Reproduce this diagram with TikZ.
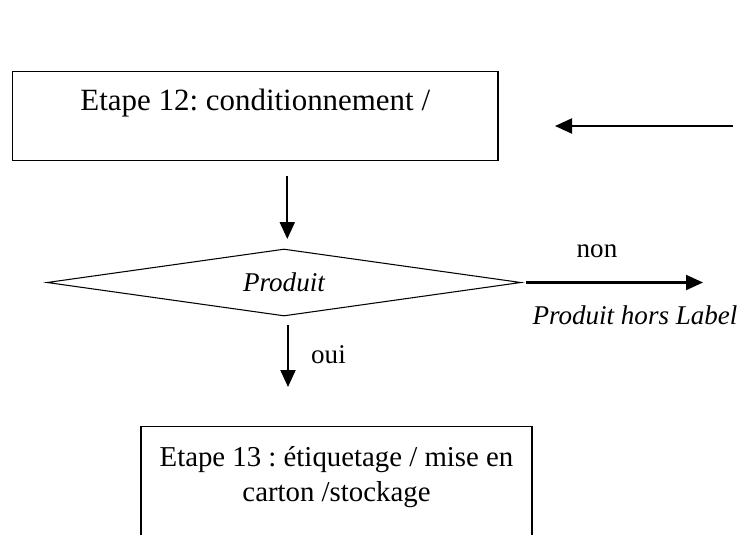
\documentclass[tikz,border=0pt]{standalone}
\usepackage{fontspec}
\setmainfont{Liberation Serif}
\usetikzlibrary{shapes.geometric, arrows.meta}
\frenchspacing

\begin{document}
\begin{tikzpicture}[font=\fontsize{17.6}{19.9}\selectfont,
  stepbox/.style={draw, line width=0.6pt, anchor=north, inner xsep=0, inner ysep=0},
  decision/.style={draw, diamond, line width=0.6pt, shape aspect=7, inner sep=0,
    minimum width=9.48cm, minimum height=1.34cm, font=\fontsize{15.4}{18}\selectfont\itshape},
  tag/.style={font=\fontsize{15.4}{18}\selectfont},
  flow/.style={-{Triangle[length=0.34cm, width=0.3cm]}, line width=1.2pt}]

\useasboundingbox (0, 0) rectangle (14.88, -10.7);
\clip (0, 0) rectangle (14.88, -10.7);

% Steps
\node[stepbox, minimum width=9.71cm, text height=0.78cm, text depth=1cm] (etape12) at (5.105, -1.42) {Etape 12: conditionnement /};
\node[stepbox, text width=7.82cm, align=flush center, text height=0.8cm, text depth=3cm,
  font=\fontsize{16.4}{19.9}\selectfont] (etape13) at (6.73, -8.52)
  {Etape 13 : étiquetage / mise en\\carton /stockage};

% Test
\node[decision] (check) at (5.68, -5.65) {Produit};

% Loose ends
\coordinate (inStart) at (14.66, -2.52);
\coordinate (inEnd) at (11.1, -2.52);
\coordinate (downStart) at (5.746, -3.52);
\coordinate (downEnd) at (5.746, -4.78);
\coordinate (ouiStart) at (5.76, -6.5);
\coordinate (ouiEnd) at (5.76, -7.74);
\coordinate (nonEnd) at (14.06, -5.65);

% Labels
\node[tag] (non) at (11.94, -5.02) {non};
\node[tag, font=\fontsize{15.4}{18}\selectfont\itshape] (hors) at (12.7, -6.3) {Produit hors Label};
\node[tag] (oui) at (6.57, -7.1) {oui};

% Arrows
\draw[flow] (inStart) -- (inEnd);
\draw[flow] (downStart) -- (downEnd);
\draw[flow] ([xshift=0.08cm]check.east) -- (nonEnd);
\draw[flow] (ouiStart) -- (ouiEnd);

\end{tikzpicture}
\end{document}
